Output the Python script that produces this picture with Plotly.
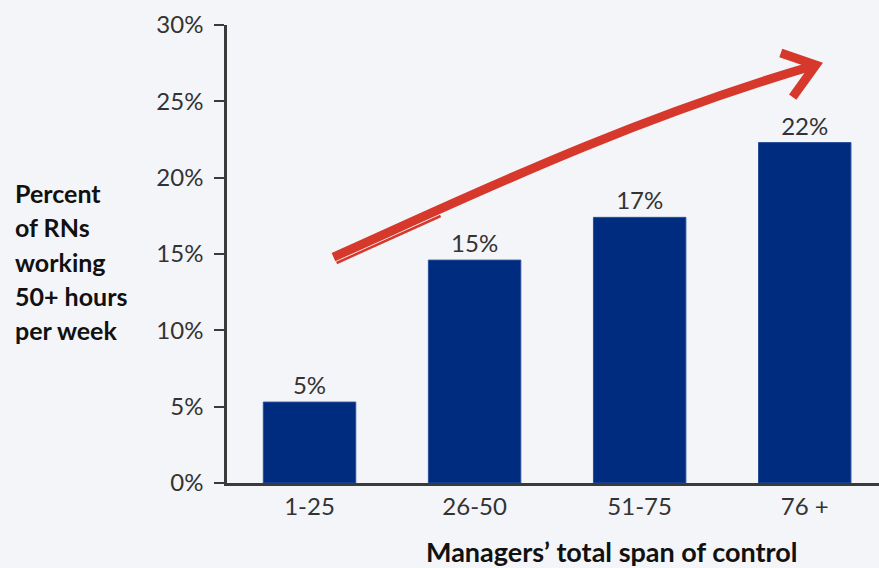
import plotly.graph_objects as go

# Span-of-control buckets and share of RNs working 50+ hours per week (%)
categories = ["1-25", "26-50", "51-75", "76 +"]
pct_long_hours = [5.3, 14.6, 17.4, 22.3]
y_ticks = [0, 5, 10, 15, 20, 25, 30]
y_tick_labels = [f"{v}%" for v in y_ticks]
y_title_lines = ["Percent", "of RNs", "working", "50+ hours", "per week"]
x_title = "Managers\u2019 total span of control"

BG = "#f4f5f8"
NAVY = "#002c80"
RED = "#d6382c"
AXIS = "#3a3a3a"
FONT = "Lato"

positions = list(range(len(categories)))

fig = go.Figure()
fig.add_trace(go.Bar(
    x=positions,
    y=pct_long_hours,
    width=0.56,
    marker=dict(color=NAVY, line=dict(color="#2a4f9a", width=1)),
    text=pct_long_hours,
    texttemplate="%{y:.0f}%",
    textposition="outside",
    textfont=dict(family=FONT, size=24, color="#333333"),
    cliponaxis=False,
    hoverinfo="skip",
))

# Hand-drawn style trend arrow (in data coordinates)
shaft = "M 0.145,14.80 C 0.855,18.21 1.885,23.65 3.067,27.38"
stroke_edge = "M 0.164,14.41 L 0.794,17.49"
head = "M 2.855,28.17 L 3.067,27.38 L 2.927,25.28"

shapes = [
    dict(type="path", path=shaft, xref="x", yref="y",
         line=dict(color=RED, width=9)),
    dict(type="path", path=stroke_edge, xref="x", yref="y",
         line=dict(color=RED, width=2.5)),
    dict(type="path", path=head, xref="x", yref="y",
         line=dict(color=RED, width=9)),
]

annotations = []
for i, line in enumerate(y_title_lines):
    annotations.append(dict(
        text=line, xref="paper", yref="paper",
        x=-0.328, xanchor="left",
        y=0.633 - i * 0.0748, yanchor="middle",
        showarrow=False,
        font=dict(family=FONT, size=25, color="#111111", weight="bold"),
    ))
annotations.append(dict(
    text=x_title, xref="paper", yref="paper",
    x=0.59, xanchor="center",
    y=-0.1485, yanchor="middle",
    showarrow=False,
    font=dict(family=FONT, size=27, color="#111111", weight="bold"),
))

fig.update_layout(
    width=879, height=568,
    margin=dict(l=227, r=0, t=25, b=85),
    paper_bgcolor=BG, plot_bgcolor=BG,
    showlegend=False,
    shapes=shapes,
    annotations=annotations,
    xaxis=dict(
        range=[-0.5, 3.45],
        tickvals=positions, ticktext=categories,
        showgrid=False, zeroline=False,
        showline=True, linecolor=AXIS, linewidth=2.5,
        ticks="",
        tickfont=dict(family=FONT, size=24, color="#333333"),
        fixedrange=True,
    ),
    yaxis=dict(
        range=[0, 30],
        tickvals=y_ticks, ticktext=y_tick_labels,
        showgrid=False, zeroline=False,
        showline=True, linecolor=AXIS, linewidth=2.5,
        ticks="outside", ticklen=10, tickwidth=2, tickcolor=AXIS,
        ticklabelstandoff=6,
        tickfont=dict(family=FONT, size=24, color="#333333"),
        fixedrange=True,
    ),
)

fig.write_html("out.html")
